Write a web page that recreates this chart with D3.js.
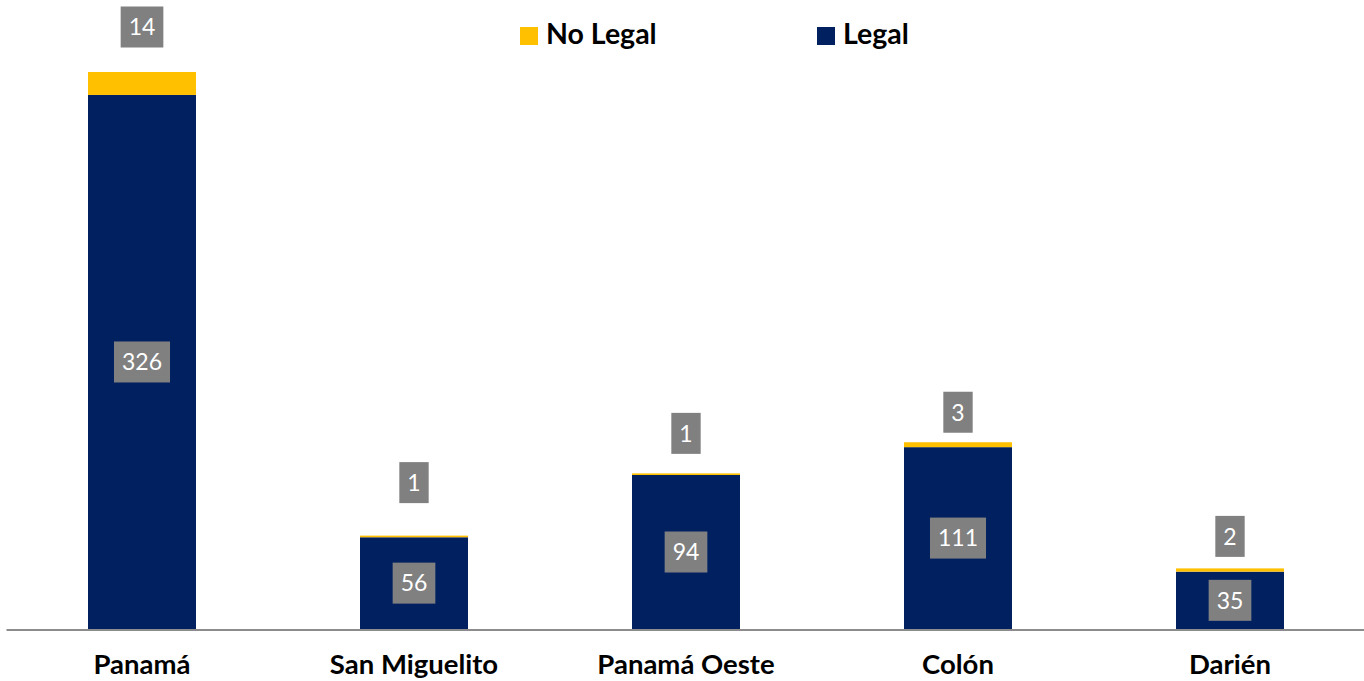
<!DOCTYPE html>
<html>
<head>
<meta charset="utf-8">
<script src="https://cdn.jsdelivr.net/npm/d3@7"></script>
<style>
  body { margin: 0; background: #fff; }
  svg { display: block; font-family: Lato, "Open Sans", sans-serif; }
</style>
</head>
<body>
<script>
const width = 1364;
const height = 681;

const provinces = ["Panamá", "San Miguelito", "Panamá Oeste", "Colón", "Darién"];
const legal = [326, 56, 94, 111, 35];
const noLegal = [14, 1, 1, 3, 2];
const seriesNames = ["No Legal", "Legal"];
const seriesColors = ["#FFC000", "#002060"];

// how far above the bar top each "No Legal" label sits (label layout, as placed in the original)
const noLegalLabelLift = [45, 53, 40, 30, 32];

const svg = d3
  .select("body")
  .append("svg")
  .attr("width", width)
  .attr("height", height);

const x = d3
  .scaleBand()
  .domain(provinces)
  .range([6, 1366])
  .paddingInner(0.603)
  .paddingOuter(0.3015);

const y = d3.scaleLinear().domain([0, 340]).range([629, 72]);

const rows = provinces.map((p, i) => ({
  province: p,
  legal: legal[i],
  noLegal: noLegal[i],
  lift: noLegalLabelLift[i]
}));

const stack = d3.stack().keys(["legal", "noLegal"])(rows);
const colorFor = { legal: seriesColors[1], noLegal: seriesColors[0] };

// bars
svg
  .selectAll("g.layer")
  .data(stack)
  .join("g")
  .attr("class", "layer")
  .attr("fill", d => colorFor[d.key])
  .selectAll("rect")
  .data(d => d)
  .join("rect")
  .attr("x", d => x(d.data.province))
  .attr("y", d => y(d[1]))
  .attr("width", x.bandwidth())
  .attr("height", d => y(d[0]) - y(d[1]));

// axis
const axis = svg
  .append("g")
  .attr("transform", "translate(0,629.5)")
  .call(d3.axisBottom(x).tickSize(0).tickSizeOuter(0));
axis.select(".domain").attr("stroke", "#8c8c8c").attr("stroke-width", 2);
axis
  .selectAll("text")
  .attr("y", 44)
  .attr("dy", 0)
  .attr("fill", "#000")
  .style("font-family", "Lato, sans-serif")
  .style("font-weight", "bold")
  .style("font-size", "27.5px");

// value labels in gray boxes
function addLabel(cx, cy, text) {
  const g = svg.append("g").attr("transform", `translate(${cx},${cy})`);
  const t = g
    .append("text")
    .attr("text-anchor", "middle")
    .attr("dy", "0.36em")
    .attr("fill", "#fff")
    .style("font-size", "23px")
    .text(text);
  const w = t.node().getComputedTextLength() + 16;
  g.insert("rect", "text")
    .attr("x", -w / 2)
    .attr("y", -20.5)
    .attr("width", w)
    .attr("height", 41)
    .attr("fill", "#808080");
}

rows.forEach(d => {
  const cx = x(d.province) + x.bandwidth() / 2;
  addLabel(cx, (y(0) + y(d.legal)) / 2, d.legal);
  addLabel(cx, y(d.legal + d.noLegal) - d.lift, d.noLegal);
});

// legend
const legendX = [520, 817];
const legend = svg
  .selectAll("g.legend")
  .data(seriesNames)
  .join("g")
  .attr("class", "legend")
  .attr("transform", (d, i) => `translate(${legendX[i]},27)`);
legend
  .append("rect")
  .attr("width", 18)
  .attr("height", 18)
  .attr("fill", (d, i) => seriesColors[i]);
legend
  .append("text")
  .attr("x", 26)
  .attr("y", 17)
  .style("font-weight", "bold")
  .style("font-size", "28.5px")
  .attr("fill", "#000")
  .text(d => d);
</script>
</body>
</html>
